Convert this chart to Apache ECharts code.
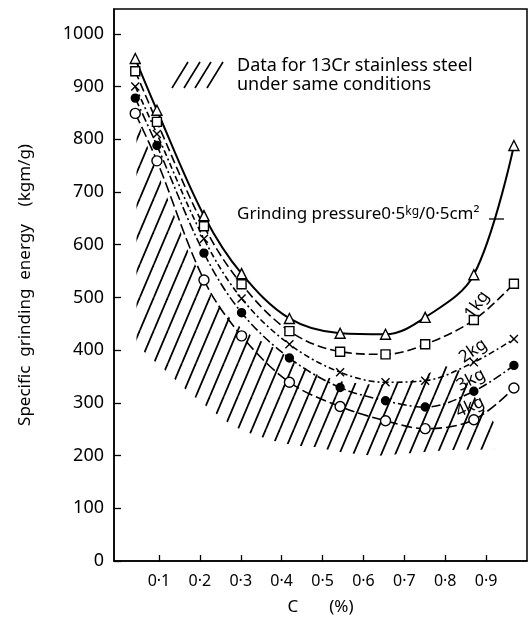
<!DOCTYPE html>
<html>
<head>
<meta charset="utf-8">
<script src="https://cdn.jsdelivr.net/npm/echarts@6/dist/echarts.min.js"></script>
<style>
html, body { margin: 0; padding: 0; background: #fff; }
#main { width: 530px; height: 621px; }
</style>
</head>
<body>
<div id="main"></div>
<script>
// C (%) 含量
var cPct = [0.042, 0.095, 0.21, 0.302, 0.419, 0.543, 0.654, 0.751, 0.870, 0.968];
// 比磨削能 (kgm/g)，各磨削压力
var p05kg = [953, 855, 655, 545, 460, 432, 430, 462, 543, 788];
var p1kg = [929, 833, 635, 525, 436, 397, 392, 411, 457, 526];
var p2kg = [900, 810, 611, 498, 411, 358, 339, 342, 377, 421];
var p3kg = [878, 788, 584, 471, 385, 329, 304, 292, 322, 371];
var p4kg = [849, 759, 533, 427, 339, 293, 266, 251, 268, 328];

// 13Cr 不锈钢数据带（阴影区）
var bandX = [0.045, 0.08, 0.115, 0.17, 0.23, 0.28, 0.33, 0.38, 0.43, 0.48, 0.55, 0.63, 0.72, 0.80, 0.84, 0.88, 0.92];
var bandTop = [840, 770, 700, 590, 500, 455, 425, 405, 380, 355, 340, 334, 343, 370, 360, 300, 262];
var bandBottom = [410, 385, 362, 322, 285, 256, 240, 228, 219, 216, 206, 199, 205, 210, 211, 211, 212];

// 刻度
var xTicks = [0.1, 0.2, 0.3, 0.4, 0.5, 0.6, 0.7, 0.8, 0.9];
var yTicks = [0, 100, 200, 300, 400, 500, 600, 700, 800, 900, 1000];

var FONT = 'Noto Sans';

// 斜线填充图案
function makeHatch() {
    var w = 14, h = 33;
    var c = document.createElement('canvas');
    c.width = w;
    c.height = h;
    var ctx = c.getContext('2d');
    ctx.strokeStyle = '#000';
    ctx.lineWidth = 1.8;
    for (var k = -1; k <= 1; k++) {
        ctx.beginPath();
        ctx.moveTo(k * w, h);
        ctx.lineTo((k + 1) * w, 0);
        ctx.stroke();
    }
    return c;
}
var hatch = makeHatch();

function pairs(ys) {
    return cPct.map(function (x, i) { return [x, ys[i]]; });
}

function lineSeries(name, ys, symbol, size, fill, dash, width) {
    return {
        name: name,
        type: 'line',
        data: pairs(ys),
        smooth: 0.35,
        symbol: symbol,
        symbolSize: size,
        showAllSymbol: true,
        z: 3,
        lineStyle: { color: '#000', width: width || 1.6, type: dash },
        itemStyle: { color: fill, borderColor: '#000', borderWidth: 1.4 }
    };
}

var chart = echarts.init(document.getElementById('main'));

var option = {
    backgroundColor: '#fff',
    animation: false,
    textStyle: { fontFamily: FONT, color: '#000' },
    grid: {
        left: 114, right: 3, top: 9, bottom: 57,
        show: true, borderColor: '#000', borderWidth: 1.5
    },
    xAxis: {
        type: 'value',
        min: -0.01,
        max: 1.0,
        name: 'C       (%)',
        nameLocation: 'middle',
        nameGap: 38,
        nameTextStyle: { fontSize: 17, color: '#000', fontFamily: FONT },
        axisLine: { onZero: false, lineStyle: { color: '#000', width: 1.5 } },
        axisTick: { inside: true, length: 6, customValues: xTicks, lineStyle: { color: '#000', width: 1.3 } },
        axisLabel: {
            customValues: xTicks,
            margin: 12,
            fontSize: 16,
            color: '#000',
            fontFamily: FONT,
            formatter: function (v) { return '0·' + Math.round(v * 10); }
        },
        splitLine: { show: false }
    },
    yAxis: {
        type: 'value',
        min: 0,
        max: 1047,
        name: 'Specific  grinding  energy    (kgm/g)',
        nameLocation: 'middle',
        nameGap: 80,
        nameTextStyle: { fontSize: 17, color: '#000', fontFamily: FONT },
        axisLine: { onZero: false, lineStyle: { color: '#000', width: 1.5 } },
        axisTick: { inside: true, length: 7, customValues: yTicks, lineStyle: { color: '#000', width: 1.3 } },
        axisLabel: {
            customValues: yTicks,
            margin: 10,
            fontSize: 18,
            color: '#000',
            fontFamily: FONT,
            formatter: function (v) { return String(v); }
        },
        splitLine: { show: false }
    },
    graphic: [
        // 图例：斜线 + 文字
        { type: 'line', shape: { x1: 172, y1: 88, x2: 188, y2: 62 }, style: { stroke: '#000', lineWidth: 1.6 } },
        { type: 'line', shape: { x1: 184, y1: 88, x2: 200, y2: 62 }, style: { stroke: '#000', lineWidth: 1.6 } },
        { type: 'line', shape: { x1: 195, y1: 88, x2: 211, y2: 62 }, style: { stroke: '#000', lineWidth: 1.6 } },
        { type: 'line', shape: { x1: 207, y1: 88, x2: 223, y2: 62 }, style: { stroke: '#000', lineWidth: 1.6 } },
        {
            type: 'text', left: 237, top: 57,
            style: { text: 'Data for 13Cr stainless steel', font: '18px "Noto Sans"', fill: '#000' }
        },
        {
            type: 'text', left: 237, top: 76,
            style: { text: 'under same conditions', font: '18px "Noto Sans"', fill: '#000' }
        },
        {
            type: 'text', left: 237, top: 206,
            style: {
                text: '{a|Grinding pressure0·5}{s|kg}{a|/0·5cm²}',
                rich: {
                    a: { fontSize: 17, fontFamily: FONT, fill: '#000', verticalAlign: 'bottom' },
                    s: { fontSize: 12, fontFamily: FONT, fill: '#000', verticalAlign: 'top' }
                }
            }
        },
        { type: 'line', shape: { x1: 489, y1: 219, x2: 504, y2: 219 }, style: { stroke: '#000', lineWidth: 1.3 } },
        // 曲线标注
        { type: 'text', x: 477, y: 305, rotation: 55 * Math.PI / 180, style: { text: '1kg', font: '17px "Noto Sans"', fill: '#000', align: 'center', verticalAlign: 'middle' } },
        { type: 'text', x: 473, y: 351, rotation: 35 * Math.PI / 180, style: { text: '2kg', font: '17px "Noto Sans"', fill: '#000', align: 'center', verticalAlign: 'middle' } },
        { type: 'text', x: 471, y: 380, rotation: 28 * Math.PI / 180, style: { text: '3kg', font: '17px "Noto Sans"', fill: '#000', align: 'center', verticalAlign: 'middle' } },
        { type: 'text', x: 470, y: 407, rotation: 25 * Math.PI / 180, style: { text: '4kg', font: '17px "Noto Sans"', fill: '#000', align: 'center', verticalAlign: 'middle' } }
    ],
    series: [
        {
            name: '13Cr stainless steel',
            type: 'custom',
            silent: true,
            z: 1,
            data: [[0, 0]],
            renderItem: function (params, api) {
                var pts = [];
                for (var i = 0; i < bandX.length; i++) {
                    pts.push(api.coord([bandX[i], bandTop[i]]));
                }
                for (var j = bandX.length - 1; j >= 0; j--) {
                    pts.push(api.coord([bandX[j], bandBottom[j]]));
                }
                return {
                    type: 'polygon',
                    shape: { points: pts },
                    style: { fill: { image: hatch, repeat: 'repeat' }, stroke: null }
                };
            }
        },
        lineSeries('0.5kg', p05kg, 'triangle', 10, '#fff', 'solid', 2),
        lineSeries('1kg', p1kg, 'rect', 9, '#fff', [9, 4]),
        lineSeries('2kg', p2kg, 'path://M0,0L10,10M10,0L0,10', 8, 'none', [6, 3, 2, 3]),
        lineSeries('3kg', p3kg, 'circle', 8, '#000', [9, 3, 2, 3]),
        lineSeries('4kg', p4kg, 'circle', 10, '#fff', [11, 4])
    ]
};
chart.setOption(option);
</script>
</body>
</html>
